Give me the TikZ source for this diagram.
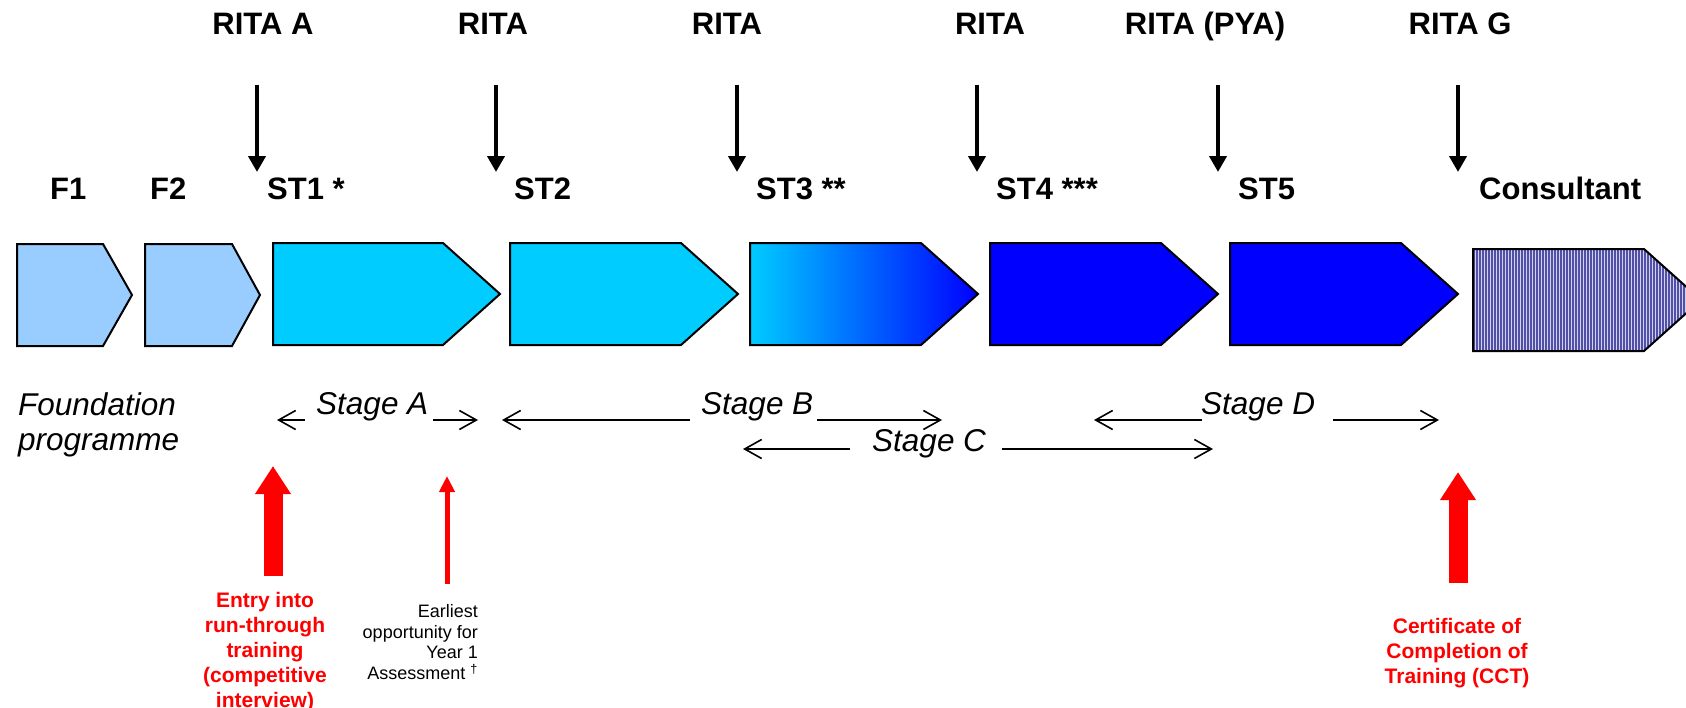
\documentclass[tikz,border=0pt]{standalone}
\usepackage{fontspec}
\setmainfont{Liberation Sans}
\usetikzlibrary{arrows.meta}
\definecolor{fcol}{HTML}{99CCFF}
\definecolor{stcol}{HTML}{00CCFF}
\definecolor{dkcol}{HTML}{0000FF}
\definecolor{stripec}{HTML}{5050A8}
\definecolor{stripebg}{HTML}{D2D2EE}
\definecolor{redc}{HTML}{FF0000}
\newcommand\phaseshape[5]{% style, left, top, flat width, tip length
  \path[#1] (#2,#3) -- ++(#4,0) -- ++(#5,51) -- ++(-#5,51) -- ++(-#4,0) -- cycle;}
\begin{document}
\begin{tikzpicture}[x=1pt,y=-1pt,
  rita/.style={font=\fontsize{31}{36}\selectfont\bfseries, anchor=base, inner sep=0pt},
  phaselbl/.style={font=\fontsize{31}{36}\selectfont\bfseries, anchor=base west, inner sep=0pt},
  stagelbl/.style={font=\fontsize{31.5}{35}\selectfont\itshape, anchor=base west, inner sep=0pt},
  ritaarrow/.style={line width=4pt, -{Triangle[length=16pt,width=17pt]}},
  stagearrow/.style={line width=1.6pt, -{Straight Barb[length=17pt,width=19pt]}},
  bigred/.style={draw=redc, line width=19pt, -{Triangle[length=28pt,width=34pt]}},
  thinred/.style={draw=redc, line width=5pt, -{Triangle[length=16pt,width=15pt]}},
  redtxt/.style={text=redc, font=\fontsize{21}{25}\selectfont\bfseries, align=center, inner sep=0pt},
  notetxt/.style={font=\fontsize{18}{20.8}\selectfont, align=right, inner sep=0pt},
  outline/.style={draw=black, line width=2pt}]
\useasboundingbox (0,0) rectangle (1686,707);

% phase shapes
\phaseshape{fill=fcol, outline}{17}{244}{86}{29}
\phaseshape{fill=fcol, outline}{145}{244}{87}{28}
\phaseshape{fill=stcol, outline}{273}{243}{170}{57}
\phaseshape{fill=stcol, outline}{510}{243}{171}{57}
\phaseshape{left color=stcol, right color=dkcol, outline}{750}{243}{171}{57}
\phaseshape{fill=dkcol, outline}{990}{243}{171}{57}
\phaseshape{fill=dkcol, outline}{1230}{243}{171}{57}
\begin{scope}
  \clip (1473,249) -- ++(171,0) -- ++(57,51) -- ++(-57,51) -- ++(-171,0) -- cycle;
  \fill[stripebg] (1465,240) rectangle (1710,360);
  \foreach \i in {0,...,78} \draw[stripec, line width=1.1pt] (1474+3*\i,240) -- ++(0,120);
\end{scope}
\phaseshape{outline}{1473}{249}{171}{57}

% RITA labels
\node[rita] (ra) at (263,34) {RITA A};
\node[rita] (rb) at (493,34) {RITA};
\node[rita] (rc) at (727,34) {RITA};
\node[rita] (rd) at (990,34) {RITA};
\node[rita] (re) at (1205,34) {RITA (PYA)};
\node[rita] (rg) at (1460,34) {RITA G};

% RITA arrows
\coordinate (a1s) at (257,85);  \coordinate (a1e) at (257,172);
\coordinate (a2s) at (496,85);  \coordinate (a2e) at (496,172);
\coordinate (a3s) at (737,85);  \coordinate (a3e) at (737,172);
\coordinate (a4s) at (977,85);  \coordinate (a4e) at (977,172);
\coordinate (a5s) at (1218,85); \coordinate (a5e) at (1218,172);
\coordinate (a6s) at (1458,85); \coordinate (a6e) at (1458,172);
\foreach \k in {1,...,6} \draw[ritaarrow] (a\k s) -- (a\k e);

% phase labels
\node[phaselbl] (lf1) at (50,199) {F1};
\node[phaselbl] (lf2) at (150,199) {F2};
\node[phaselbl] (ls1) at (267,199) {ST1 *};
\node[phaselbl] (ls2) at (514,199) {ST2};
\node[phaselbl] (ls3) at (756,199) {ST3 **};
\node[phaselbl] (ls4) at (996,199) {ST4 ***};
\node[phaselbl] (ls5) at (1238,199) {ST5};
\node[phaselbl] (lcons) at (1479,199) {Consultant};

% stage labels
\node[stagelbl, align=left, anchor=north west] (found) at (18,392) {Foundation\\programme};
\node[stagelbl] (sa) at (316,414) {Stage A};
\node[stagelbl] (sb) at (701,414) {Stage B};
\node[stagelbl] (sc) at (872,451) {Stage C};
\node[stagelbl] (sd) at (1201,414) {Stage D};

% stage arrows
\coordinate (sa1) at (305,420);  \coordinate (sa2) at (277,420);
\coordinate (sa3) at (433,420);  \coordinate (sa4) at (478,420);
\coordinate (sb1) at (690,420);  \coordinate (sb2) at (502,420);
\coordinate (sb3) at (817,420);  \coordinate (sb4) at (942,420);
\coordinate (sc1) at (850,449);  \coordinate (sc2) at (743,449);
\coordinate (sc3) at (1002,449); \coordinate (sc4) at (1213,449);
\coordinate (sd1) at (1202,420); \coordinate (sd2) at (1094,420);
\coordinate (sd3) at (1333,420); \coordinate (sd4) at (1439,420);
\draw[stagearrow] (sa1) -- (sa2);
\draw[stagearrow] (sa3) -- (sa4);
\draw[stagearrow] (sb1) -- (sb2);
\draw[stagearrow] (sb3) -- (sb4);
\draw[stagearrow] (sc1) -- (sc2);
\draw[stagearrow] (sc3) -- (sc4);
\draw[stagearrow] (sd1) -- (sd2);
\draw[stagearrow] (sd3) -- (sd4);

% red arrows
\coordinate (e1) at (273,576); \coordinate (e2) at (273,466);
\coordinate (y1) at (447,584); \coordinate (y2) at (447,476);
\coordinate (c1) at (1458,583); \coordinate (c2) at (1458,472);
\draw[bigred] (e1) -- (e2);
\draw[thinred] (y1) -- (y2);
\draw[bigred] (c1) -- (c2);

% bottom texts
\node[redtxt, anchor=north] (entry) at (265,592) {Entry into\\run-through\\training\\(competitive\\interview)};
\node[notetxt, anchor=north east] (early) at (478,604) {Earliest\\opportunity for\\Year 1\\Assessment \textsuperscript{†}};
\node[redtxt, anchor=north] (cct) at (1457,618) {Certificate of\\Completion of\\Training (CCT)};
\end{tikzpicture}
\end{document}
